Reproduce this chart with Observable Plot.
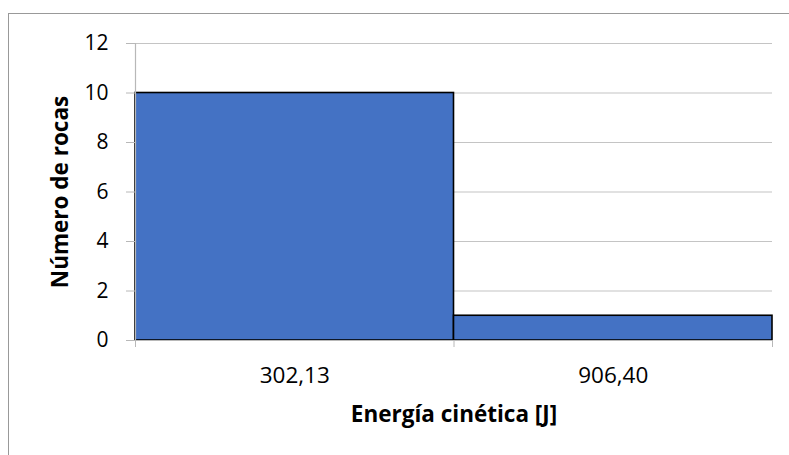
<!DOCTYPE html>
<html>
<head>
<meta charset="utf-8">
<script src="https://cdn.jsdelivr.net/npm/d3@7"></script>
<script src="https://cdn.jsdelivr.net/npm/@observablehq/plot@0.6"></script>
<style>
  html, body { margin: 0; padding: 0; background: #fff; }
  #wrap { position: relative; width: 789px; height: 455px; overflow: hidden; }
  #border { position: absolute; left: 8px; top: 13px; width: 800px; height: 460px;
            border-top: 1px solid #999; border-left: 1px solid #999; box-sizing: border-box; }
  #chart { position: absolute; left: 0; top: 0; }
</style>
</head>
<body>
<div id="wrap"><div id="border"></div><div id="chart"></div></div>
<script>
const categories = ["302,13", "906,40"];
const counts = [10, 1];
const yTicks = [0, 2, 4, 6, 8, 10, 12];
const xTitle = "Energía cinética [J]";
const yTitle = "Número de rocas";

const bins = categories.map((c, i) => ({label: c, x1: i, x2: i + 1, xm: i + 0.5, count: counts[i]}));
const edges = d3.range(categories.length + 1);
const font = "'Open Sans', sans-serif";

const plot = Plot.plot({
  width: 789,
  height: 455,
  marginLeft: 135,
  marginRight: 17,
  marginTop: 43,
  marginBottom: 115,
  style: {fontFamily: font, background: "transparent", overflow: "visible"},
  x: {domain: [0, categories.length]},
  y: {domain: [0, 12]},
  marks: [
    Plot.ruleY(yTicks, {y: d => d, x1: 0, x2: categories.length, stroke: "#c4c4c4", strokeWidth: 1.2, strokeOpacity: 1}),
    Plot.rectY(bins, {x1: "x1", x2: "x2", y1: 0, y2: "count", fill: "#4472C4", stroke: "#000", strokeWidth: 1.6}),
    Plot.axisY({ticks: yTicks, tickSize: 9, tickPadding: 18, stroke: "#b8b8b8", strokeOpacity: 1, fontSize: 21, fill: "#000", label: null, tickFormat: d => String(d)}),
    Plot.axisX({ticks: edges, tickSize: 7, tickFormat: () => "", stroke: "#b8b8b8", strokeOpacity: 1, label: null}),
    Plot.ruleX([0], {stroke: "#b8b8b8", strokeWidth: 1.2}),
    Plot.ruleY([0], {x1: 0, x2: categories.length, stroke: "#b8b8b8", strokeWidth: 1.2}),
    Plot.text(bins, {x: "xm", text: "label", frameAnchor: "bottom", dy: 35, fontSize: 22.5, fill: "#000", lineAnchor: "middle"}),
    Plot.text([xTitle], {frameAnchor: "bottom", dy: 74, fontSize: 22.5, fontWeight: "bold", fill: "#000", lineAnchor: "middle", textAnchor: "middle"}),
    Plot.text([yTitle], {frameAnchor: "left", dx: -75, rotate: -90, fontSize: 22.5, fontWeight: "bold", fill: "#000", lineAnchor: "middle", textAnchor: "middle"})
  ]
});
document.getElementById("chart").appendChild(plot);
</script>
</body>
</html>
